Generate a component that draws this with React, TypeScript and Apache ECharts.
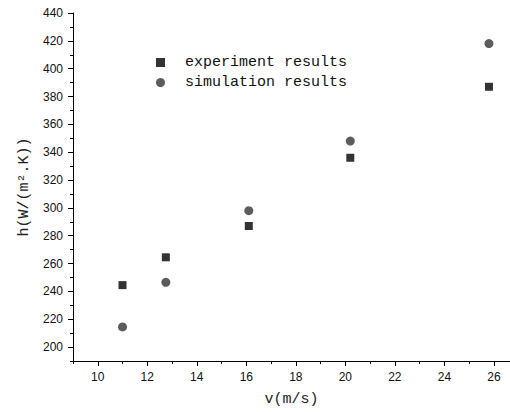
import React, { useEffect, useRef } from "react";
import * as echarts from "echarts";

const velocity = [11.0, 12.75, 16.1, 20.2, 25.8];
const experiment = [244.5, 264.5, 287, 336, 387];
const simulation = [214.5, 246.5, 298, 348, 418];
const xMajor = [10, 12, 14, 16, 18, 20, 22, 24, 26];
const xMinor = [9, 11, 13, 15, 17, 19, 21, 23, 25];
const yMajor = [200, 220, 240, 260, 280, 300, 320, 340, 360, 380, 400, 420, 440];
const yMinor = [190, 210, 230, 250, 270, 290, 310, 330, 350, 370, 390, 410, 430];

const titleFont = "'Liberation Mono', 'DejaVu Sans Mono', monospace";
const tickFont = "'Liberation Sans', Arial, sans-serif";

export default function App() {
  const ref = useRef<HTMLDivElement>(null);
  useEffect(() => {
    if (!ref.current) return;
    const chart = echarts.init(ref.current, undefined, { renderer: "svg" });
    const xBase = { type: "value", min: 9, max: 26.65, gridIndex: 0, position: "bottom" };
    const yBase = { type: "value", min: 190, max: 440, gridIndex: 0, position: "left" };
    chart.setOption({
      animation: false,
      backgroundColor: "#fff",
      grid: { left: 73, right: 0, top: 13, bottom: 51, containLabel: false },
      legend: {
        orient: "vertical",
        left: 151,
        top: 50,
        padding: 5,
        itemWidth: 9,
        itemHeight: 9,
        itemGap: 5,
        textStyle: { fontFamily: titleFont, fontSize: 15, color: "#111", padding: [0, 0, 0, 15] },
        data: [
          { name: "experiment results", icon: "rect" },
          { name: "simulation results", icon: "circle" },
        ],
      },
      xAxis: [
        {
          ...xBase,
          name: "v(m/s)",
          nameLocation: "middle",
          nameGap: 31,
          nameTextStyle: { fontFamily: titleFont, fontSize: 15, color: "#222" },
          axisLine: { show: true, lineStyle: { color: "#000", width: 1 } },
          axisTick: { show: true, length: 5, customValues: xMajor, lineStyle: { color: "#000" } },
          axisLabel: { customValues: xMajor, margin: 10, fontFamily: tickFont, fontSize: 12, color: "#111" },
          splitLine: { show: false },
        },
        {
          ...xBase,
          axisLine: { show: false },
          axisTick: { show: true, length: 3, customValues: xMinor, lineStyle: { color: "#000" } },
          axisLabel: { show: false },
          splitLine: { show: false },
        },
      ],
      yAxis: [
        {
          ...yBase,
          name: "h(W/(m².K))",
          nameLocation: "middle",
          nameGap: 40,
          nameRotate: 90,
          nameTextStyle: { fontFamily: titleFont, fontSize: 15, color: "#222" },
          axisLine: { show: true, lineStyle: { color: "#000", width: 1 } },
          axisTick: { show: true, length: 5, customValues: yMajor, lineStyle: { color: "#000" } },
          axisLabel: { customValues: yMajor, margin: 10, fontFamily: tickFont, fontSize: 12, color: "#111" },
          splitLine: { show: false },
        },
        {
          ...yBase,
          axisLine: { show: false },
          axisTick: { show: true, length: 3, customValues: yMinor, lineStyle: { color: "#000" } },
          axisLabel: { show: false },
          splitLine: { show: false },
        },
      ],
      series: [
        {
          name: "experiment results",
          type: "scatter",
          symbol: "rect",
          symbolSize: 8,
          itemStyle: { color: "#000" },
          data: velocity.map((v, i) => [v, experiment[i]]),
        },
        {
          name: "simulation results",
          type: "scatter",
          symbol: "circle",
          symbolSize: 9,
          itemStyle: { color: "#333" },
          data: velocity.map((v, i) => [v, simulation[i]]),
        },
      ],
    });
    return () => chart.dispose();
  }, []);
  return <div ref={ref} style={{ width: 510, height: 412, position: "absolute", left: 0, top: 0 }} />;
}
